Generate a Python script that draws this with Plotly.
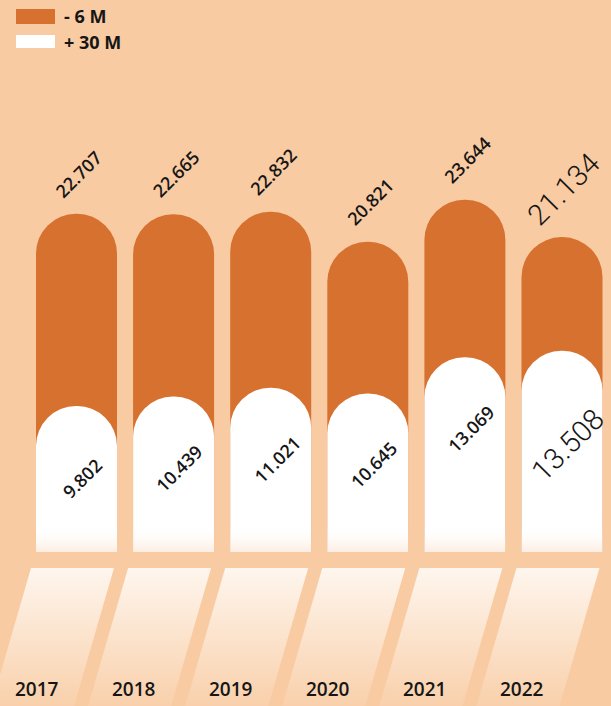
import plotly.graph_objects as go

# ---------------- data ----------------
years = ["2017", "2018", "2019", "2020", "2021", "2022"]
orange_vals = [22.707, 22.665, 22.832, 20.821, 23.644, 21.134]
white_vals = [9.802, 10.439, 11.021, 10.645, 13.069, 13.508]
orange_labels = ["22.707", "22.665", "22.832", "20.821", "23.644", "21.134"]
white_labels = ["9.802", "10.439", "11.021", "10.645", "13.069", "13.508"]
series_names = ["- 6 M", "+ 30 M"]

# ---------------- style ----------------
BG = "#F9CBA3"
ORANGE = "#D6712F"
WHITE = "#FFFFFF"
TEXT = "#161616"

W, H = 611, 706
px_per_unit = 14.9
base_px = 552
x0_px = 76.5
step_px = 97.1

y_min = -(H - base_px) / px_per_unit
y_max = base_px / px_per_unit
x_min = -x0_px / step_px
x_max = (W - x0_px) / step_px
bar_w = 81 / step_px

xs = list(range(len(years)))

fig = go.Figure()

# bottom slanted panels with gradient
top_y = -16 / px_per_unit
bot_y = y_min - 0.5
slant = 40 / 138 * (top_y - bot_y) * px_per_unit / step_px
for i in xs:
    l, r = i - 45.5 / step_px, i + 37.5 / step_px
    fig.add_trace(go.Scatter(
        x=[l, r, r - slant, l - slant, l],
        y=[top_y, top_y, bot_y, bot_y, top_y],
        mode="lines", line=dict(width=0), fill="toself",
        fillgradient=dict(type="vertical", start=bot_y + 0.5, stop=top_y,
                          colorscale=[[0, "#F9D0AB"], [1, "#FEF6EE"]]),
        hoverinfo="skip", showlegend=False))

fig.add_trace(go.Bar(x=xs, y=orange_vals, width=bar_w, name=series_names[0],
                     marker=dict(color=ORANGE, cornerradius="50%", line=dict(width=0)),
                     hoverinfo="skip", showlegend=False))
# white series on an overlaying x-axis so its bars are rounded independently
fig.add_trace(go.Bar(x=xs, y=white_vals, width=bar_w, name=series_names[1], xaxis="x2",
                     marker=dict(color=WHITE, cornerradius="50%", line=dict(width=0)),
                     hoverinfo="skip", showlegend=False))

# subtle fade at bottom of white bars
fade_top = 26 / px_per_unit
for i in xs:
    l, r = i - bar_w / 2, i + bar_w / 2
    fig.add_trace(go.Scatter(
        x=[l, r, r, l, l], y=[0, 0, fade_top, fade_top, 0], xaxis="x2",
        mode="lines", line=dict(width=0), fill="toself",
        fillgradient=dict(type="vertical", start=0, stop=fade_top,
                          colorscale=[[0, "rgba(250,225,205,0.6)"], [1, "rgba(255,255,255,0)"]]),
        hoverinfo="skip", showlegend=False))

annotations = []
for i in xs:
    last = i == len(xs) - 1
    if last:
        f = dict(family="Roboto", size=29, color=TEXT, weight=300)
        oshift, wshift = 48, -94
    else:
        f = dict(family="Open Sans", size=18, color=TEXT, weight=600)
        oshift, wshift = 40, -72
    annotations.append(dict(x=i + 0.02, y=orange_vals[i], text=orange_labels[i], textangle=-45,
                            showarrow=False, yshift=oshift, xanchor="center", yanchor="middle", font=f))
    annotations.append(dict(x=i + 0.06, y=white_vals[i], text=white_labels[i], textangle=-45,
                            showarrow=False, yshift=wshift, xanchor="center", yanchor="middle", font=f))
    annotations.append(dict(x=i - 40 / step_px, y=y_min, text=years[i], showarrow=False,
                            xanchor="center", yanchor="bottom", yshift=2,
                            font=dict(family="Open Sans", size=19, color=TEXT, weight=600)))

# legend (drawn)
shapes = []
leg_colors = [ORANGE, WHITE]
leg_rows = [(9, 24), (35, 48)]
for (t, b), c, name in zip(leg_rows, leg_colors, series_names):
    shapes.append(dict(type="rect", xref="paper", yref="paper",
                       x0=16 / W, x1=55 / W, y0=1 - b / H, y1=1 - t / H,
                       fillcolor=c, line=dict(width=0)))
    annotations.append(dict(xref="paper", yref="paper", x=62 / W, y=1 - (t + b) / 2 / H,
                            text=name, showarrow=False, xanchor="left", yanchor="middle",
                            font=dict(family="Open Sans", size=18, color=TEXT, weight=700)))

fig.update_layout(
    width=W, height=H,
    margin=dict(l=0, r=0, t=0, b=0),
    paper_bgcolor=BG, plot_bgcolor=BG,
    barmode="overlay",
    xaxis=dict(range=[x_min, x_max], visible=False, fixedrange=True),
    xaxis2=dict(range=[x_min, x_max], visible=False, fixedrange=True, overlaying="x"),
    yaxis=dict(range=[y_min, y_max], visible=False, fixedrange=True),
    annotations=annotations, shapes=shapes,
    showlegend=False, hovermode=False,
)

fig.write_html("out.html", config={"displayModeBar": False},
               post_script="document.body.style.margin='0';document.body.style.background='%s';" % BG)
